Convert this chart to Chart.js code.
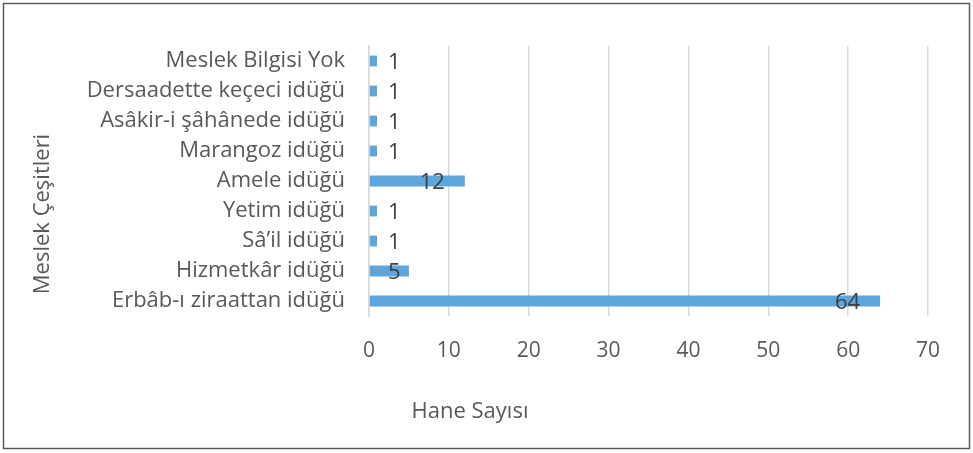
<!DOCTYPE html>
<html>
<head>
<meta charset="utf-8">
<script src="https://cdn.jsdelivr.net/npm/chart.js@4.4.1/dist/chart.umd.min.js"></script>
<style>
  html, body { margin: 0; padding: 0; background: #fff; }
  #wrap { width: 973px; height: 453px; position: relative; }
</style>
</head>
<body>
<div id="wrap"><canvas id="grafico" width="973" height="453"></canvas></div>
<script>
// Datos del gráfico (de arriba hacia abajo)
const meslekler = [
    'Meslek Bilgisi Yok',
    'Dersaadette keçeci idüğü',
    'Asâkir-i şâhânede idüğü',
    'Marangoz idüğü',
    'Amele idüğü',
    'Yetim idüğü',
    'Sâ\u2019il idüğü',
    'Hizmetkâr idüğü',
    'Erbâb-ı ziraattan idüğü'
];
const haneSayisi = [1, 1, 1, 1, 12, 1, 1, 5, 64];
const ejeX = { min: 0, max: 70, paso: 10 };
const tituloY = 'Meslek Çeşitleri';
const tituloX = 'Hane Sayısı';

const fuente = "'Open Sans', 'Noto Sans', sans-serif";
const grisTexto = '#595959';

// Marco exterior y títulos de ejes
const marcoYTitulos = {
    id: 'marcoYTitulos',
    afterDraw(chart) {
        const ctx = chart.ctx;
        ctx.save();
        ctx.strokeStyle = '#595959';
        ctx.lineWidth = 1.5;
        ctx.strokeRect(3.5, 3.5, 966, 445);

        ctx.fillStyle = grisTexto;
        ctx.font = '22px ' + fuente;
        ctx.textAlign = 'center';
        ctx.textBaseline = 'middle';
        ctx.fillText(tituloX, 470, 412);

        ctx.translate(43, 214);
        ctx.rotate(-Math.PI / 2);
        ctx.fillText(tituloY, 0, 0);
        ctx.restore();
    }
};

// Etiquetas de valores (extremo interior de la barra)
const etiquetas = {
    id: 'etiquetas',
    afterDatasetsDraw(chart) {
        const ctx = chart.ctx;
        const meta = chart.getDatasetMeta(0);
        const x0 = chart.scales.x.getPixelForValue(0);
        ctx.save();
        ctx.font = '22px ' + fuente;
        ctx.fillStyle = '#404040';
        ctx.textAlign = 'left';
        ctx.textBaseline = 'middle';
        meta.data.forEach((bar, i) => {
            const txt = String(haneSayisi[i]);
            const w = ctx.measureText(txt).width;
            const x = Math.max(bar.x - 20 - w, x0 + 19);
            ctx.fillText(txt, x, bar.y + 2);
        });
        ctx.restore();
    }
};

new Chart(document.getElementById('grafico'), {
    type: 'bar',
    data: {
        labels: meslekler,
        datasets: [{
            data: haneSayisi,
            backgroundColor: '#5DA5DA',
            borderWidth: 0,
            barPercentage: 0.36,
            categoryPercentage: 1
        }]
    },
    options: {
        indexAxis: 'y',
        responsive: false,
        animation: false,
        layout: { padding: { top: 46, right: 45, bottom: 20, left: 20 } },
        plugins: { legend: { display: false }, tooltip: { enabled: false } },
        scales: {
            x: {
                min: ejeX.min,
                max: ejeX.max,
                ticks: { stepSize: ejeX.paso, color: grisTexto, font: { family: fuente, size: 21 }, padding: 22 },
                grid: { color: '#d9d9d9', lineWidth: 1.5, drawTicks: false },
                border: { display: false },
                afterFit(scale) { scale.height = 117; }
            },
            y: {
                ticks: { color: grisTexto, font: { family: fuente, size: 22 }, padding: 24, autoSkip: false },
                grid: { display: false, drawTicks: false },
                border: { display: true, color: '#d9d9d9', width: 1.5 },
                afterFit(scale) { scale.width = 349; }
            }
        }
    },
    plugins: [marcoYTitulos, etiquetas]
});
</script>
</body>
</html>
